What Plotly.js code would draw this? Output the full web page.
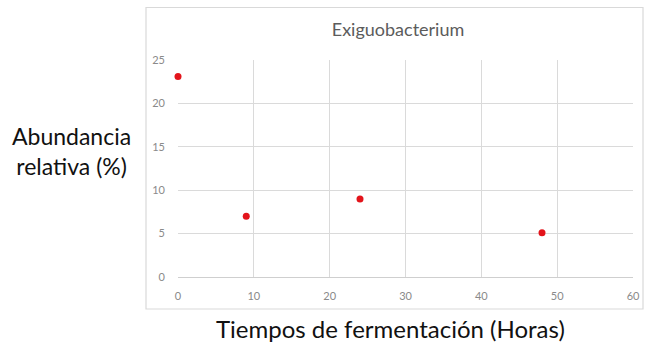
<!DOCTYPE html>
<html>
<head>
<meta charset="utf-8">
<script src="https://cdn.plot.ly/plotly-3.0.1.min.js"></script>
<style>
  html, body { margin: 0; padding: 0; background: #ffffff; }
  #chart { width: 649px; height: 346px; }
</style>
</head>
<body>
<div id="chart"></div>
<script>
// Fermentation time (hours) and relative abundance (%) of Exiguobacterium
const hours = [0, 9, 24, 48];
const abundance = [23.1, 7.0, 9.0, 5.1];
const xTicks = [0, 10, 20, 30, 40, 50, 60];
const yTicks = [0, 5, 10, 15, 20, 25];

const chartTitle = 'Exiguobacterium';
const xTitle = 'Tiempos de fermentación (Horas)';
const yTitle = 'Abundancia<br>relativa (%)';

const W = 649, H = 346;
const m = { l: 178, r: 16, t: 60, b: 69 };
const pw = W - m.l - m.r, ph = H - m.t - m.b;
// frame around the chart, in paper units
const px = v => (v - m.l) / pw;
const py = v => (H - m.b - v) / ph;

const trace = {
  type: 'scatter',
  mode: 'markers',
  x: hours,
  y: abundance,
  marker: { color: '#e3141b', size: 7 },
  cliponaxis: false,
  hoverinfo: 'skip'
};

const FONT = 'Lato, "Open Sans", sans-serif';
const tickFont = { family: FONT, size: 11, color: '#8a8a8a' };

const layout = {
  width: W, height: H,
  margin: m,
  paper_bgcolor: '#ffffff',
  plot_bgcolor: '#ffffff',
  showlegend: false,
  title: {
    text: chartTitle,
    font: { family: FONT, size: 18, color: '#5c5c5c' },
    xref: 'container', yref: 'container',
    x: 398 / W, y: 1 - 30 / H,
    xanchor: 'center', yanchor: 'middle'
  },
  xaxis: {
    range: [0, 60],
    tickvals: xTicks,
    ticktext: xTicks.map(String),
    showgrid: true, gridcolor: '#dadada', gridwidth: 1,
    zeroline: false,
    showline: true, linecolor: '#cfcfcf', linewidth: 1,
    ticks: '',
    ticklabelstandoff: 9,
    tickfont: tickFont,
    fixedrange: true
  },
  yaxis: {
    range: [0, 25],
    tickvals: yTicks,
    ticktext: yTicks.map(String),
    showgrid: true, gridcolor: '#dadada', gridwidth: 1,
    zeroline: false,
    showline: false,
    ticks: '',
    ticklabelstandoff: 12,
    tickfont: tickFont,
    fixedrange: true
  },
  shapes: [{
    type: 'rect', xref: 'paper', yref: 'paper',
    x0: px(146), x1: px(643), y0: py(309), y1: py(7.5),
    line: { color: '#d9d9d9', width: 1.2 },
    fillcolor: 'rgba(0,0,0,0)', layer: 'below'
  }],
  annotations: [
    {
      text: yTitle, xref: 'paper', yref: 'paper',
      x: px(71), y: py(151), xanchor: 'center', yanchor: 'middle',
      showarrow: false, align: 'center',
      font: { family: FONT, size: 23, color: '#111111' }
    },
    {
      text: xTitle, xref: 'paper', yref: 'paper',
      x: px(390), y: py(328), xanchor: 'center', yanchor: 'middle',
      showarrow: false,
      font: { family: FONT, size: 24, color: '#111111' }
    }
  ]
};

Plotly.newPlot('chart', [trace], layout, { displayModeBar: false, staticPlot: true });
</script>
</body>
</html>
